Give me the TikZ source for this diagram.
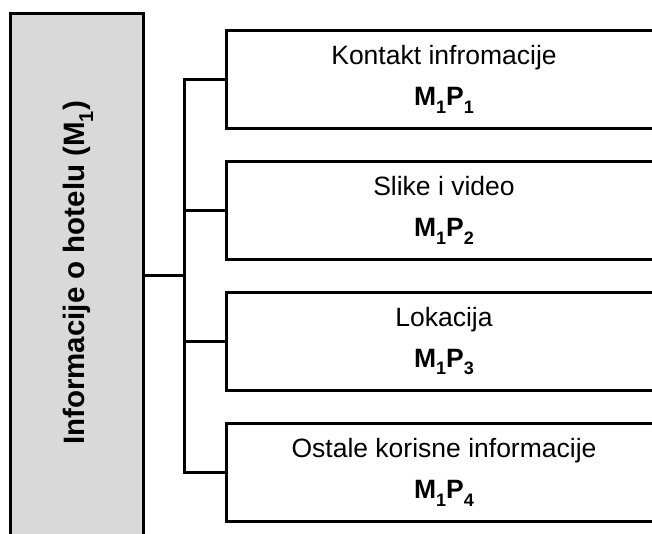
\documentclass[tikz,border=0pt]{standalone}
\usepackage{fontspec}
\setmainfont{Liberation Sans}
\newcommand\mysub[1]{\raisebox{-0.3em}{\scalebox{0.68}{#1}}}
\begin{document}
\begin{tikzpicture}[x=1pt,y=1pt,
  line/.style={line width=3pt},
  subbox/.style={draw, line width=3pt, minimum width=436pt, minimum height=98pt, inner sep=0pt, align=center, font=\fontsize{26.5}{30}\selectfont},
  mainbox/.style={draw, line width=3pt, fill=gray!30, minimum width=133pt, minimum height=529pt, inner sep=0pt}
]
\clip (0,0) rectangle (652,533);
\node[mainbox] (main) at (76.5,254.5) {};
\node[rotate=90, font=\fontsize{29.5}{34}\selectfont\bfseries] (title) at (78,260) {Informacije o hotelu (M\mysub{1})};
\node[subbox] (b1) at (444,453.5) {Kontakt infromacije\\[11pt]{\bfseries M\mysub{1}P\mysub{1}}};
\node[subbox] (b2) at (444,322.5) {Slike i video\\[11pt]{\bfseries M\mysub{1}P\mysub{2}}};
\node[subbox] (b3) at (444,192) {Lokacija\\[11pt]{\bfseries M\mysub{1}P\mysub{3}}};
\node[subbox] (b4) at (444,61) {Ostale korisne informacije\\[11pt]{\bfseries M\mysub{1}P\mysub{4}}};
\coordinate (jn) at (184,257.25);
\draw[line] (main.east |- jn) -- (jn);
\draw[line] (b1.west) -| (jn) |- (b4.west);
\draw[line] (b2.west) -- (b2.west -| jn);
\draw[line] (b3.west) -- (b3.west -| jn);
\end{tikzpicture}
\end{document}
